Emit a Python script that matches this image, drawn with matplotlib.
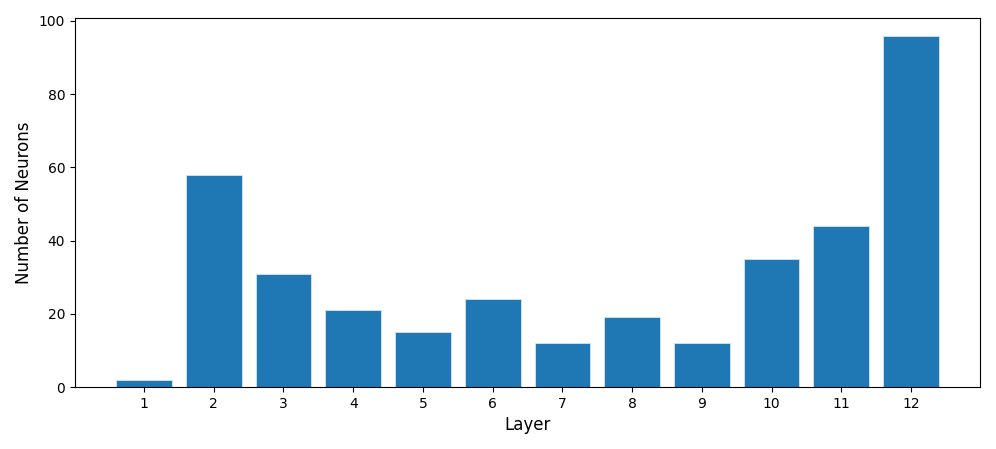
import numpy as np
import matplotlib.pyplot as plt

layers = np.arange(1, 13)
neurons = [2, 58, 31, 21, 15, 24, 12, 19, 12, 35, 44, 96]

fig = plt.figure(figsize=(9.96, 4.49), dpi=100)
ax = fig.add_axes([0.0753, 0.138, 0.9087, 0.822])
ax.bar(layers, neurons, color='#1f77b4', edgecolor='#d6e4f0', linewidth=0.6)
ax.set_xticks(layers)
ax.set_xlabel('Layer', fontsize=12)
ax.set_ylabel('Number of Neurons', fontsize=12)
fig.savefig('out.png', dpi=100)
